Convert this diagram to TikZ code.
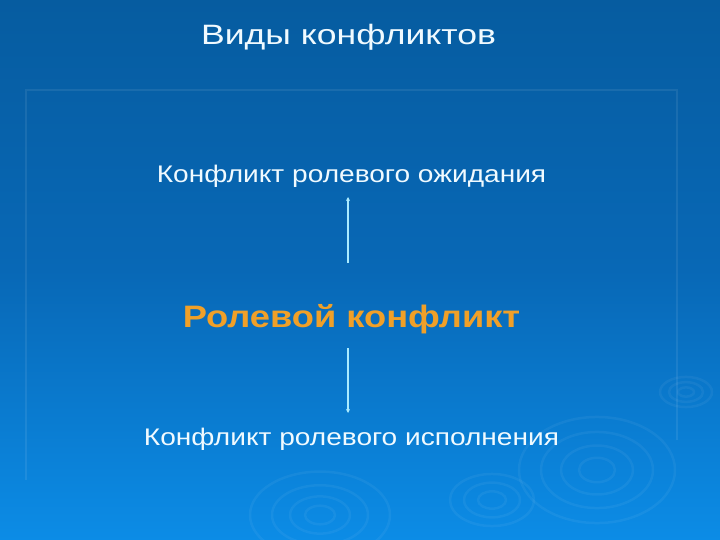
\documentclass[tikz,border=0pt]{standalone}
\usepackage{fontspec}
\setmainfont{Liberation Sans}
\newfontfamily\titlefont[FakeStretch=1.27]{Liberation Sans}
\newfontfamily\labelfont[FakeStretch=1.17]{Liberation Sans}
\usetikzlibrary{arrows.meta}
\definecolor{bgtop}{RGB}{6,92,160}
\definecolor{bgmid}{RGB}{8,104,182}
\definecolor{bgbot}{RGB}{12,140,230}
\definecolor{txt}{RGB}{240,250,255}
\definecolor{orangetxt}{RGB}{240,160,40}
\definecolor{arr}{RGB}{170,235,255}
\begin{document}
\begin{tikzpicture}[x=1pt,y=-1pt,
  lbl/.style={text=txt,font=\labelfont\fontsize{24}{28}\selectfont,inner sep=0pt,anchor=base},
  ttl/.style={text=txt,font=\titlefont\fontsize{28}{32}\selectfont,inner sep=0pt,anchor=base},
  ctr/.style={text=orangetxt,font=\labelfont\bfseries\fontsize{31}{35}\selectfont,inner sep=0pt,anchor=base},
  conn/.style={draw=arr,line width=1.4pt,-{Stealth[length=4pt,width=4pt]}},
  ripple/.style={draw=white,draw opacity=0.05,line width=2.5pt},
  frameline/.style={draw=white,draw opacity=0.08,line width=1.2pt}]
\useasboundingbox (0,0) rectangle (720,540);
\shade[top color=bgtop,bottom color=bgbot,middle color=bgmid,shading angle=0] (0,0) rectangle (720,540);
% frame
\draw[frameline] (26,480) -- (26,90) -- (677,90) -- (677,440);
% ripples
\foreach \r in {18,36,56,78}{\draw[ripple] (597,470) ellipse ({\r} and {\r*0.68});}
\foreach \r in {8,17,26}{\draw[ripple] (686,392) ellipse ({\r} and {\r*0.58});}
\foreach \r in {15,30,48,70}{\draw[ripple] (320,515) ellipse ({\r} and {\r*0.62});}
\foreach \r in {14,28,42}{\draw[ripple] (492,500) ellipse ({\r} and {\r*0.62});}
% texts
\node[ttl] (title) at (348.5,45) {Виды конфликтов};
\node[lbl] (exp) at (351.5,183) {Конфликт ролевого ожидания};
\node[ctr] (role) at (351.5,327) {Ролевой конфликт};
\node[lbl] (perf) at (351.5,445) {Конфликт ролевого исполнения};
% connectors
\coordinate (a1s) at (348,263);
\coordinate (a1e) at (348,197);
\coordinate (a2s) at (348,348);
\coordinate (a2e) at (348,413);
\draw[conn] (a1s) -- (a1e);
\draw[conn] (a2s) -- (a2e);
\end{tikzpicture}
\end{document}
